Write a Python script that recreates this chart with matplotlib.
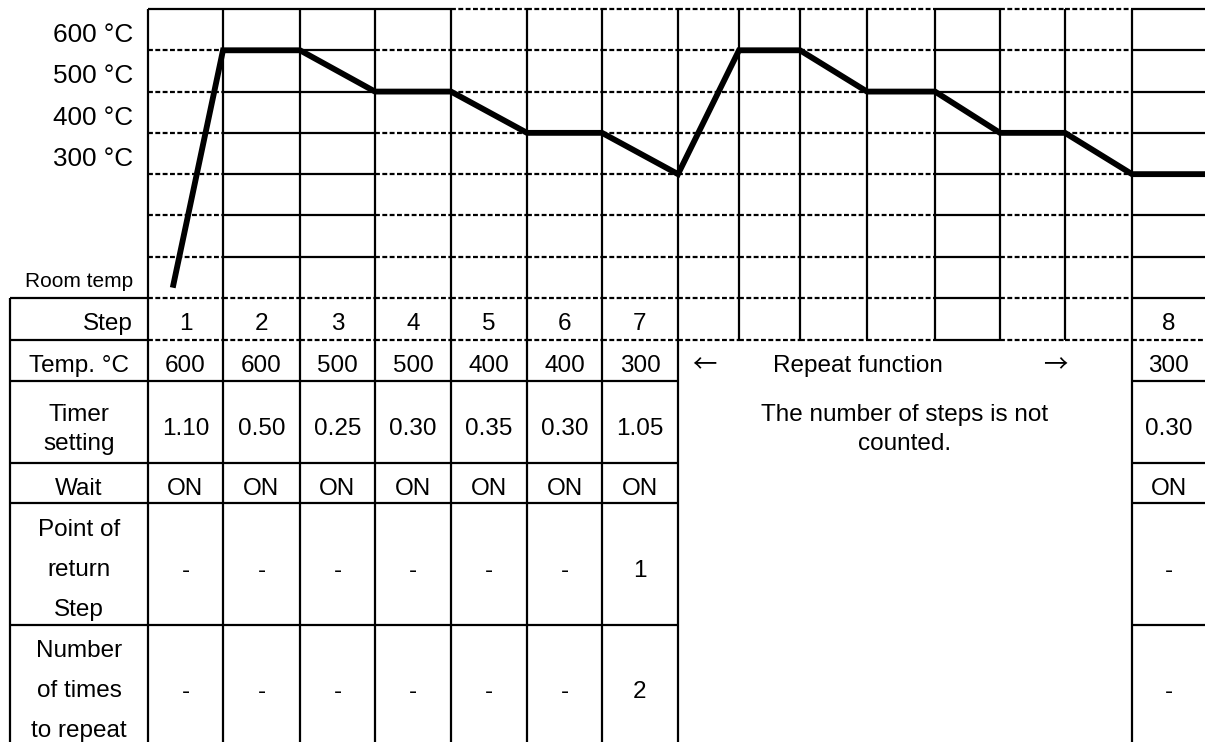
import matplotlib
matplotlib.use('Agg')
import matplotlib.pyplot as plt
import numpy as np

plt.rcParams['font.family'] = ['Liberation Sans', 'DejaVu Sans']

# ---------------- data ----------------
TEMP_TICKS = [600, 500, 400, 300]
TEMP_TICK_LABELS = ['600 °C', '500 °C', '400 °C', '300 °C']
ROOM_TEMP = 25
ROOM_LABEL = 'Room temp'
GRID_TEMPS = [0, 100, 200, 300, 400, 500, 600, 700]
# profile: position in column-edge units, temperature in °C
PROFILE_EDGE = [0.33, 1, 2, 3, 4, 5, 6, 7, 8, 9, 10, 11, 12, 13, 14, 15]
PROFILE_TEMP = [25, 600, 600, 500, 500, 400, 400, 300, 600, 600, 500, 500, 400, 400, 300, 300]

STEPS = ['1', '2', '3', '4', '5', '6', '7', '8']
STEP_TEMPS = ['600', '600', '500', '500', '400', '400', '300', '300']
TIMER = ['1.10', '0.50', '0.25', '0.30', '0.35', '0.30', '1.05', '0.30']
WAIT = ['ON', 'ON', 'ON', 'ON', 'ON', 'ON', 'ON', 'ON']
RETURN_STEP = ['-', '-', '-', '-', '-', '-', '1', '-']
REPEAT_TIMES = ['-', '-', '-', '-', '-', '-', '2', '-']
ROW_LABELS = ['Step', 'Temp. °C', 'Timer\nsetting', 'Wait',
              'Point of\nreturn\nStep', 'Number\nof times\nto repeat']
REPEAT_TITLE = 'Repeat function'
REPEAT_NOTE = 'The number of steps is not\ncounted.'

# ---------------- layout (pixels) ----------------
W, H = 1205, 742
EDGES = [148, 223, 300, 375, 451, 527, 602, 678, 739, 800, 867, 935, 1000, 1065, 1132, 1205]
STEP_COL = [0, 1, 2, 3, 4, 5, 6, 14]
CHART_TOP, CHART_BOT = 9, 298
T_MAX = 700
TABLE_LEFT = 10
ROW_Y = [298, 340, 381, 463, 503, 625, 742]
FS = 17.5
FS_TICK = 18.8
LW = 1.6
DASH = (0, (2.2, 1.1))

fig = plt.figure(figsize=(W / 100, H / 100), dpi=100)

# table / frame axes in pixel coordinates
tab = fig.add_axes([0, 0, 1, 1])
tab.set_xlim(0, W)
tab.set_ylim(H, 0)
tab.axis('off')

# chart axes: x in pixels, y in °C
ax = fig.add_axes([EDGES[0] / W, 1 - CHART_BOT / H, (W - EDGES[0]) / W, (CHART_BOT - CHART_TOP) / H])
ax.set_xlim(EDGES[0], W)
ax.set_ylim(0, T_MAX)
ax.axis('off')

# horizontal grid segments: style per column ('s' solid / 'd' dashed)
style_top = ['s', 's', 's', 's', 'd', 'd', 'd', 'd', 'd', 'd', 'd', 's', 'd', 'd', 's']
style_mid = ['d', 's', 's', 'd', 'd', 'd', 'd', 'd', 'd', 'd', 'd', 's', 'd', 'd', 's']
style_bot = ['d', 'd', 'd', 'd', 'd', 'd', 'd', 'd', 'd', 'd', 'd', 's', 'd', 'd', 's']
for t in GRID_TEMPS:
    styles = style_top if t == T_MAX else (style_bot if t == 0 else style_mid)
    for c in range(len(EDGES) - 1):
        ls = '-' if styles[c] == 's' else DASH
        ax.plot([EDGES[c], EDGES[c + 1]], [t, t], color='black', lw=LW, ls=ls,
                clip_on=False, solid_capstyle='butt', dash_capstyle='butt')

# temperature labels
for t, lab in zip(TEMP_TICKS, TEMP_TICK_LABELS):
    ax.text(133, t + 20, lab, ha='right', va='baseline', fontsize=FS_TICK, clip_on=False)
ax.text(133, ROOM_TEMP + 2, ROOM_LABEL, ha='right', va='baseline', fontsize=FS - 2.5, clip_on=False)

# temperature profile
px = np.interp(PROFILE_EDGE, np.arange(len(EDGES)), EDGES)
ax.plot(px, PROFILE_TEMP, color='black', lw=4.2, solid_joinstyle='miter',
        solid_capstyle='butt', clip_on=False, zorder=5)

# vertical lines
for i, x in enumerate(EDGES[:-1]):
    bottom = ROW_Y[1] if 7 < i < 14 else H
    tab.plot([x, x], [CHART_TOP, bottom], color='black', lw=LW, solid_capstyle='butt')
tab.plot([TABLE_LEFT, TABLE_LEFT], [ROW_Y[0], H], color='black', lw=LW, solid_capstyle='butt')

# table horizontal lines
for y in ROW_Y[:-1]:
    tab.plot([TABLE_LEFT, EDGES[0]], [y, y], color='black', lw=LW, solid_capstyle='butt')
style_340 = ['d'] * 11 + ['s', 'd', 'd', 'd']
for c in range(len(EDGES) - 1):
    ls = '-' if style_340[c] == 's' else DASH
    tab.plot([EDGES[c], EDGES[c + 1]], [ROW_Y[1], ROW_Y[1]], color='black', lw=LW, ls=ls,
             solid_capstyle='butt', dash_capstyle='butt')
for y in ROW_Y[2:-1]:
    tab.plot([EDGES[0], EDGES[7]], [y, y], color='black', lw=LW, solid_capstyle='butt')
    tab.plot([EDGES[14], EDGES[15]], [y, y], color='black', lw=LW, solid_capstyle='butt')

# row labels
LABEL_X = (TABLE_LEFT + EDGES[0]) / 2
row_baselines = [[330], [372], [421, 450], [495], [536, 576, 616], [657, 697, 737]]
for r, (lab, bls) in enumerate(zip(ROW_LABELS, row_baselines)):
    for line, yb in zip(lab.split('\n'), bls):
        if r == 0:
            tab.text(133, yb, line, ha='right', va='baseline', fontsize=FS)
        else:
            tab.text(LABEL_X, yb, line, ha='center', va='baseline', fontsize=FS)

# cell values
value_rows = [(STEPS, 330), (STEP_TEMPS, 372), (TIMER, 435), (WAIT, 495),
              (RETURN_STEP, 577), (REPEAT_TIMES, 698)]
for vals, yb in value_rows:
    for v, c in zip(vals, STEP_COL):
        cx = (EDGES[c] + EDGES[c + 1]) / 2
        tab.text(cx, yb, v, ha='center', va='baseline', fontsize=FS)

# repeat region text
ARROW_FONT = ['Noto Sans CJK JP', 'DejaVu Sans']
tab.text(704, 372, '←', ha='center', va='baseline', fontsize=FS, family=ARROW_FONT)
tab.text(858, 372, REPEAT_TITLE, ha='center', va='baseline', fontsize=FS)
tab.text(1055, 372, '→', ha='center', va='baseline', fontsize=FS, family=ARROW_FONT)
rep_cx = (EDGES[7] + EDGES[14]) / 2
for line, yb in zip(REPEAT_NOTE.split('\n'), [421, 450]):
    tab.text(rep_cx, yb, line, ha='center', va='baseline', fontsize=FS)

fig.savefig('out.png', dpi=100)
